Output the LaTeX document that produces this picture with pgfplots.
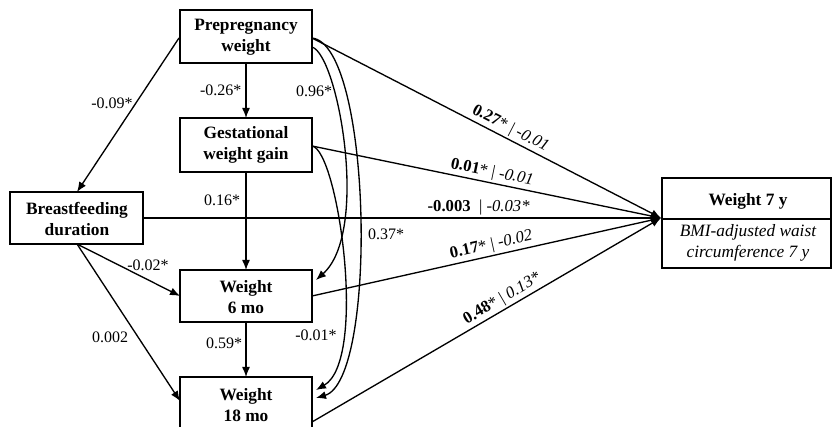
\documentclass[border=0pt]{standalone}
\usepackage{fontspec}
\setmainfont{Liberation Serif}
\usepackage{pgfplots}
\pgfplotsset{compat=1.18}
\usetikzlibrary{arrows.meta}

\begin{document}
\begin{tikzpicture}[
    lbl/.style={font=\fontsize{12}{14}\selectfont, inner sep=1pt},
    slbl/.style={font=\fontsize{12.5}{14}\selectfont, inner sep=1.5pt},
    box/.style={font=\fontsize{13}{15.5}\selectfont\bfseries, align=center},
    arr/.style={line width=1pt, -{Latex[length=7.5pt, width=6pt]}},
]
\begin{axis}[
    name=ax,
    width=624.75pt, height=320.25pt, scale only axis,
    xmin=0, xmax=833, ymin=0, ymax=427,
    y dir=reverse,
    hide axis, clip=false,
]
% boxes (pixel coordinates, y downwards)
\draw[line width=0.8pt] (180,10) rectangle (312,63);
\draw[line width=0.8pt] (180,118) rectangle (312,172);
\draw[line width=0.8pt] (10,192) rectangle (143,244);
\draw[line width=0.8pt] (180,270) rectangle (312,322);
\draw[line width=0.8pt] (180,377) rectangle (312,445);
\draw[line width=0.8pt] (662,178) rectangle (831,268);
\draw[line width=0.8pt] (662,219) -- (831,219);

\node[box] at (246,37) {Prepregnancy\\weight};
\node[box] at (246,145) {Gestational\\weight gain};
\node[box] at (77,219) {Breastfeeding\\duration};
\node[box] at (246,297) {Weight\\6 mo};
\node[box] at (246,405) {Weight\\18 mo};
\node[box] at (748,201) {Weight 7 y};
\node[font=\fontsize{13}{15.5}\selectfont\itshape, align=center] at (748,243) {BMI-adjusted waist\\circumference 7 y};

% straight paths
\addplot[arr, black, no markers] coordinates {(246,63) (246,118)};
\addplot[arr, black, no markers] coordinates {(246,172) (246,270)};
\addplot[arr, black, no markers] coordinates {(246,322) (246,377)};
\addplot[arr, black, no markers] coordinates {(179,38) (77,192)};
\addplot[arr, black, no markers] coordinates {(77,244) (180,296)};
\addplot[arr, black, no markers] coordinates {(77,244) (180,401)};

\addplot[arr, black, no markers] coordinates {(143,218) (661,218)}
    node[slbl, pos=0.648, above] {\textbf{-0.003}~~|~\textit{-0.03*}};
\addplot[arr, black, no markers] coordinates {(312,38) (661,218)}
    node[slbl, pos=0.555, above, sloped] {\textbf{0.27}* | \textit{-0.01}};
\addplot[arr, black, no markers] coordinates {(312,146) (661,218)}
    node[slbl, pos=0.51, above, sloped] {\textbf{0.01}* | \textit{-0.01}};
\addplot[arr, black, no markers] coordinates {(312,296) (661,218)}
    node[slbl, pos=0.52, above, sloped] {\textbf{0.17}* | \textit{-0.02}};
\addplot[arr, black, no markers] coordinates {(312,422) (661,218)}
    node[slbl, pos=0.56, above, sloped] {\textbf{0.48}* | \textit{0.13*}};

% curved paths
\draw[arr] (312,47) .. controls (338,55) and (370,232) .. (316,280);
\draw[arr] (312,38) .. controls (372,45) and (378,380) .. (316,398);
\draw[arr] (312,146) .. controls (338,150) and (368,360) .. (316,390);

% path labels
\node[lbl, anchor=east] at (243,90) {-0.26*};
\node[lbl] at (314,91) {0.96*};
\node[lbl] at (112,103) {-0.09*};
\node[lbl] at (222,200) {0.16*};
\node[lbl] at (386,234) {0.37*};
\node[lbl] at (148,265) {-0.02*};
\node[lbl] at (110,337) {0.002};
\node[lbl] at (224,343) {0.59*};
\node[lbl] at (316,335) {-0.01*};
\end{axis}
\pgfresetboundingbox
\useasboundingbox (ax.south west) rectangle (ax.north east);
\end{tikzpicture}
\end{document}
